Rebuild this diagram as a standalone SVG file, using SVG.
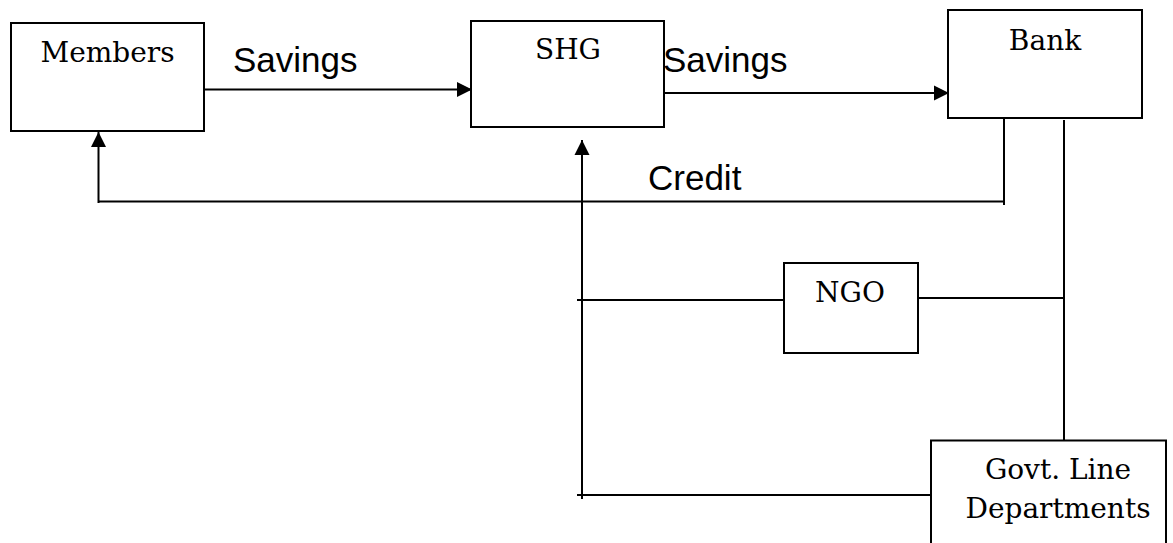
<svg xmlns="http://www.w3.org/2000/svg" width="1173" height="543" viewBox="0 0 1173 543">
<style>
.box{fill:#fff;stroke:#000;stroke-width:2}
.lbl{font-family:"DejaVu Serif","Liberation Serif",serif;font-size:28px;fill:#000;text-anchor:middle}
.el{font-family:"Liberation Sans",Arial,sans-serif;font-size:35px;fill:#000}
.ln{fill:none;stroke:#000;stroke-width:2}
</style>
<defs>
<marker id="ah" markerUnits="userSpaceOnUse" markerWidth="16" markerHeight="16" viewBox="0 0 16 16" refX="15" refY="8" orient="auto">
<path d="M0,0.5 L15,8 L0,15.5 Z" fill="#000"/>
</marker>
</defs>
<rect width="1173" height="543" fill="#fff"/>
<g id="connectors">
<line class="ln" x1="205" y1="89.5" x2="472" y2="89.5" marker-end="url(#ah)"/>
<line class="ln" x1="665" y1="93" x2="949" y2="93" marker-end="url(#ah)"/>
<line class="ln" x1="1004" y1="118" x2="1004" y2="205"/>
<line class="ln" x1="1004" y1="201.5" x2="98.5" y2="201.5"/>
<line class="ln" x1="98.5" y1="203" x2="98.5" y2="132" marker-end="url(#ah)"/>
<line class="ln" x1="582" y1="499" x2="582" y2="140" marker-end="url(#ah)"/>
<line class="ln" x1="577" y1="300" x2="784" y2="300"/>
<line class="ln" x1="918" y1="298" x2="1064" y2="298"/>
<line class="ln" x1="1064" y1="120" x2="1064" y2="444"/>
<line class="ln" x1="577" y1="495" x2="931" y2="495"/>
<text class="el" x="233" y="72">Savings</text>
<text class="el" x="663" y="72">Savings</text>
<text class="el" x="648" y="190">Credit</text>
</g>
<g id="members">
<rect class="box" x="11" y="23" width="193" height="108"/>
<text class="lbl" x="107.5" y="62">Members</text>
</g>
<g id="shg">
<rect class="box" x="471" y="21" width="193" height="106"/>
<text class="lbl" x="568" y="59">SHG</text>
</g>
<g id="bank">
<rect class="box" x="948" y="10" width="194" height="108"/>
<text class="lbl" x="1045" y="50">Bank</text>
</g>
<g id="ngo">
<rect class="box" x="784" y="263" width="134" height="90"/>
<text class="lbl" x="850" y="302">NGO</text>
</g>
<g id="govt">
<rect class="box" x="931" y="440.5" width="235" height="120"/>
<text class="lbl" x="1058" y="479">Govt. Line</text>
<text class="lbl" x="1058" y="518">Departments</text>
</g>
</svg>
